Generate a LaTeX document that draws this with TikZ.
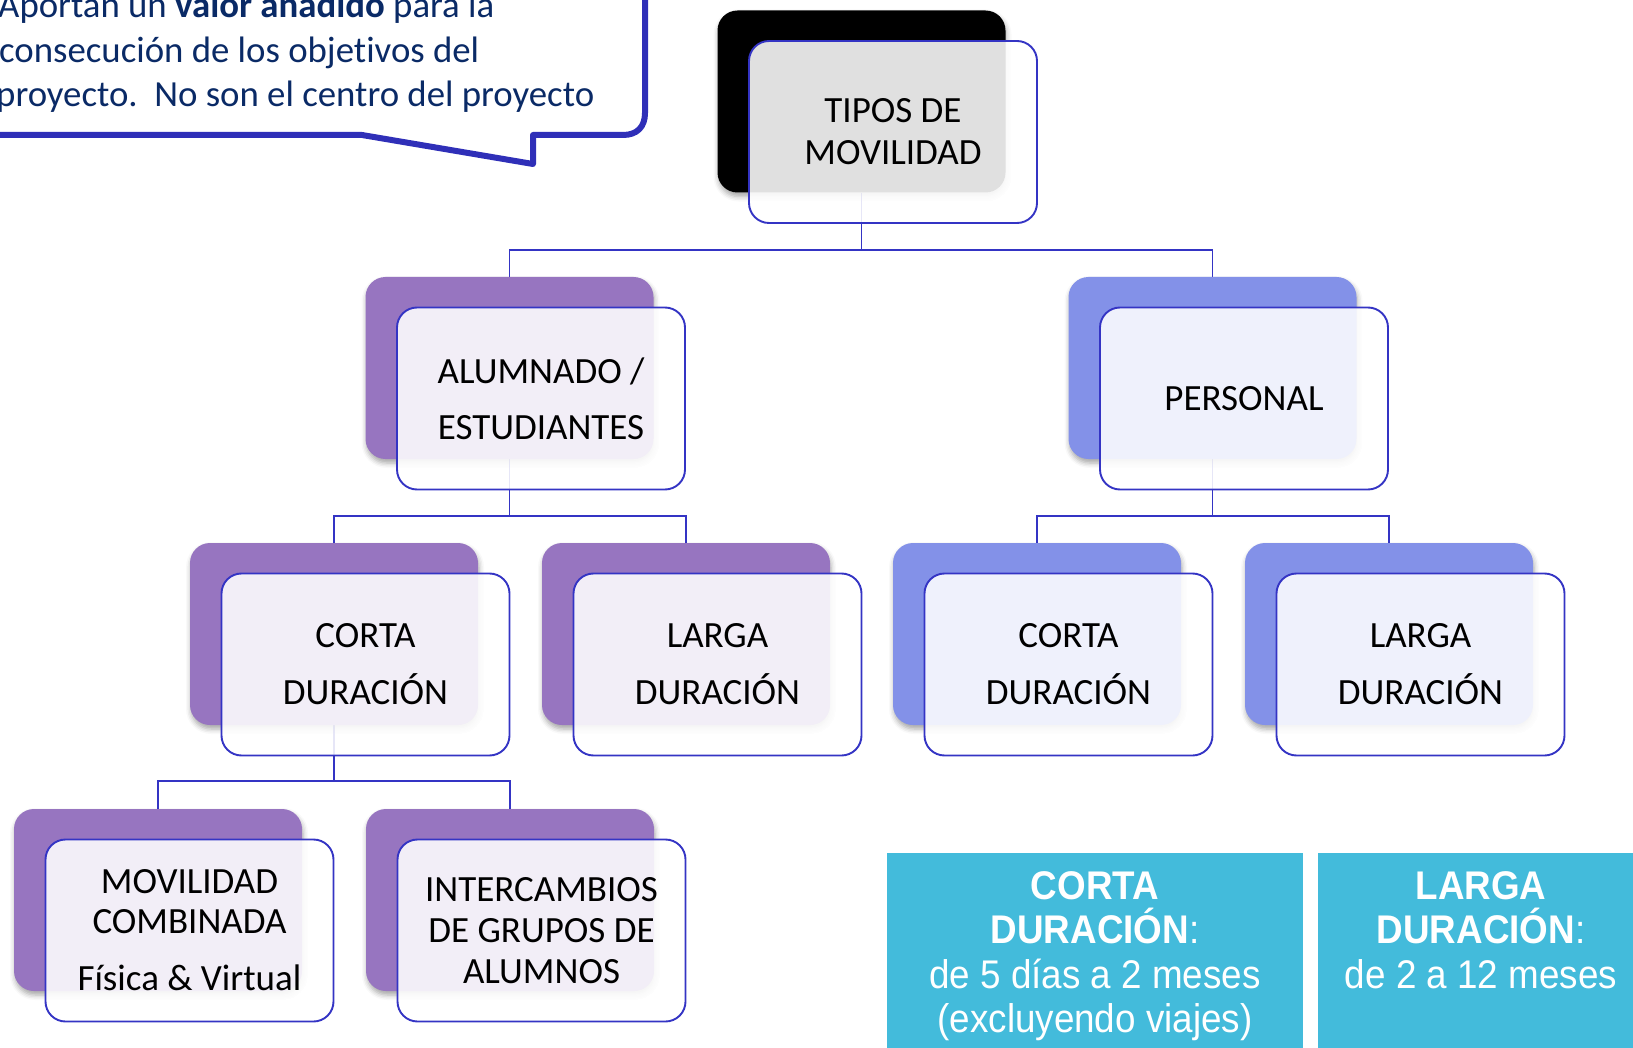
\documentclass[tikz,border=0pt]{standalone}
\usepackage{fontspec}
\setmainfont{Carlito}[Ligatures=NoCommon]
\newfontfamily\arialn[FakeStretch=0.92]{Liberation Sans}
\usetikzlibrary{shadows.blur,calc}
\definecolor{purp}{HTML}{9775C0}
\definecolor{lav}{HTML}{8391E8}
\definecolor{edge}{HTML}{3434C4}
\definecolor{navy}{HTML}{0A2A66}
\definecolor{cyanbox}{HTML}{43BBDB}
\definecolor{callline}{HTML}{2F2FB8}
\pgfdeclarelayer{background}
\pgfsetlayers{background,main}
\newcommand\mknode[5]{%
  \node[backbox, fill=#2] (#1b) at ({#3-31.5},{#4-30.5}) {};
  \node[frontbox] (#1) at (#3,#4) {#5};}
\frenchspacing
\begin{document}
\begin{tikzpicture}[x=1pt,y=-1pt,
  backbox/.style={rounded corners=20pt, minimum width=288pt, minimum height=182pt, inner sep=0pt,
    blur shadow={shadow xshift=1pt, shadow yshift=-4pt, shadow blur radius=5pt, shadow opacity=35}},
  frontbox/.style={draw=edge, line width=1.9pt, rounded corners=20pt, fill=white, fill opacity=0.88,
    text opacity=1, minimum width=288pt, minimum height=182pt, align=center,
    font=\fontsize{37}{42}\selectfont, inner sep=0pt},
  link/.style={draw=edge, line width=1.9pt},
  infotext/.style={inner sep=0pt, align=center, text=white, font=\arialn\fontsize{40}{44.5}\selectfont},
  calltext/.style={anchor=base west, inner sep=0pt, text=navy, font=\fontsize{36.8}{44}\selectfont}]
\useasboundingbox (0,0) rectangle (1633,1048);
\clip (0,0) rectangle (1633,1048);
% callout
\draw[draw=callline, fill=white, line width=6pt, line join=round]
  (-30,-30) -- (-30,135) -- (362,135) -- (533,164) -- (533,135) -- (623,135)
  .. controls (637,135) and (645,127) .. (645,113) -- (645,-30) -- cycle;
\node[calltext] (c1) at (-2,18) {Aportan un \textbf{valor añadido} para la};
\node[calltext] (c2) at (-1,62.5) {consecución de los objetivos del};
\node[calltext] (c3) at (-4,107) {proyecto.~ No son el centro del proyecto};
% tree
\mknode{top}{black}{893}{132}{TIPOS DE\\MOVILIDAD}
\mknode{alu}{purp}{541}{398.5}{ALUMNADO /\\[14pt]ESTUDIANTES}
\mknode{per}{lav}{1244}{398.5}{PERSONAL}
\mknode{acd}{purp}{365.5}{664.5}{CORTA\\[15pt]DURACIÓN}
\mknode{ald}{purp}{717.5}{664.5}{LARGA\\[15pt]DURACIÓN}
\mknode{pcd}{lav}{1068.5}{664.5}{CORTA\\[15pt]DURACIÓN}
\mknode{pld}{lav}{1420.5}{664.5}{LARGA\\[15pt]DURACIÓN}
\mknode{mov}{purp}{189.5}{930.5}{MOVILIDAD\\[-2pt]COMBINADA\\[15pt]Física \& Virtual}
\mknode{int}{purp}{541.5}{930.5}{INTERCAMBIOS\\[-1pt]DE GRUPOS DE\\[-1pt]ALUMNOS}
\coordinate (r1) at (0,250);
\coordinate (r2) at (0,516);
\coordinate (r3) at (0,781);
\begin{pgfonlayer}{background}
\draw[link] (topb.south) -- (topb.south |- r1) -| (alub.north);
\draw[link] (topb.south |- r1) -| (perb.north);
\draw[link] (alub.south) -- (alub.south |- r2) -| (acdb.north);
\draw[link] (alub.south |- r2) -| (aldb.north);
\draw[link] (perb.south) -- (perb.south |- r2) -| (pcdb.north);
\draw[link] (perb.south |- r2) -| (pldb.north);
\draw[link] (acdb.south) -- (acdb.south |- r3) -| (movb.north);
\draw[link] (acdb.south |- r3) -| (intb.north);
\end{pgfonlayer}
% info boxes
\fill[cyanbox] (887,853) rectangle (1303,1060);
\fill[cyanbox] (1318,853) rectangle (1660,1060);
\node[infotext, anchor=north] (cdtxt) at (1095,871) {\textbf{CORTA}\\\textbf{DURACIÓN}:\\de 5 días a 2 meses\\(excluyendo viajes)};
\node[infotext, anchor=north] (ldtxt) at (1481,871) {\textbf{LARGA}\\\textbf{DURACIÓN}:\\de 2 a 12 meses};
\end{tikzpicture}
\end{document}
